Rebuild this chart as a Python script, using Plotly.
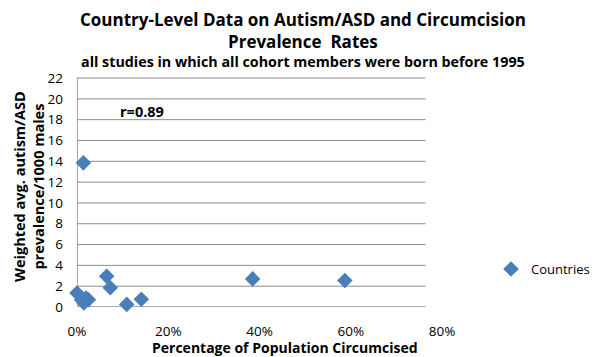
import plotly.graph_objects as go

# Data (fraction circumcised, weighted avg autism/ASD prevalence per 1000 males)
circumcised = [0.000, 0.010, 0.020, 0.015, 0.025, 0.014, 0.065, 0.073, 0.109, 0.141, 0.385, 0.587]
prevalence = [1.35, 0.70, 0.85, 0.40, 0.70, 13.85, 2.95, 1.85, 0.25, 0.75, 2.70, 2.55]
x_ticks = [0, 0.2, 0.4, 0.6, 0.8]
y_ticks = list(range(0, 23, 2))

FONT = "Open Sans"
GRID = "#8c8c8c"
x_plot_end = 0.764  # where the plot area ends (gridlines / axis line)

# page has an 8px body margin; figure is shrunk so the page does not overflow
BODY = 8
W, H = 600 - BODY, 357 - BODY
PL, PT, PW, PH = 77, 77, 365, 230  # plot area in page px


def px(xp):
    return (xp - PL) / PW


def py(yp):
    return (PT + PH - yp) / PH


fig = go.Figure()
fig.add_trace(go.Scatter(
    x=circumcised, y=prevalence, mode="markers", name="Countries",
    marker=dict(symbol="diamond", size=12, color="#4a7ebb"),
    cliponaxis=False,
))

shapes = []
for v in y_ticks[1:]:
    shapes.append(dict(type="line", xref="x", yref="y", x0=0, x1=x_plot_end, y0=v, y1=v,
                       line=dict(color=GRID, width=1), layer="below"))
shapes.append(dict(type="line", xref="x", yref="y", x0=0, x1=x_plot_end, y0=0, y1=0,
                   line=dict(color=GRID, width=1.5), layer="below"))
shapes.append(dict(type="line", xref="x", yref="y", x0=0, x1=0, y0=0, y1=22,
                   line=dict(color=GRID, width=1.5), layer="below"))

fig.update_layout(
    width=W, height=H,
    margin=dict(l=PL - BODY, r=W - (PL - BODY) - PW, t=PT - BODY, b=H - (PT - BODY) - PH,
                autoexpand=False),
    paper_bgcolor="white", plot_bgcolor="white",
    font=dict(family=FONT, color="black"),
    shapes=shapes,
    showlegend=True,
    legend=dict(x=px(491), y=py(269), xanchor="left", yanchor="middle",
                font=dict(size=13, family=FONT), bgcolor="rgba(0,0,0,0)"),
    xaxis=dict(range=[0, 0.8], tickvals=x_ticks, tickformat=".0%", showgrid=False,
               zeroline=False, showline=False, ticks="", tickfont=dict(size=13.5),
               ticklabelstandoff=14, automargin=False),
    yaxis=dict(range=[0, 22.1], tickvals=y_ticks, showgrid=False, zeroline=False,
               showline=False, ticks="", tickfont=dict(size=13.5),
               ticklabelstandoff=13, automargin=False),
)
cx = px(303)
fig.add_annotation(text="<b>Country-Level Data on Autism/ASD and Circumcision</b>",
                   xref="paper", yref="paper", x=cx, y=py(19.5), borderpad=0,
                   showarrow=False, font=dict(size=17), yanchor="middle")
fig.add_annotation(text="<b>Prevalence  Rates</b>",
                   xref="paper", yref="paper", x=cx, y=py(41),
                   showarrow=False, font=dict(size=17), yanchor="middle")
fig.add_annotation(text="<b>all studies in which all cohort members were born before 1995</b>",
                   xref="paper", yref="paper", x=cx, y=py(62),
                   showarrow=False, font=dict(size=14.3), yanchor="middle")
fig.add_annotation(text="<b>Percentage of Population Circumcised</b>",
                   xref="paper", yref="paper", x=px(285), y=py(347),
                   showarrow=False, font=dict(size=14), yanchor="middle")
fig.add_annotation(text="<b>Weighted avg. autism/ASD<br>prevalence/1000 males</b>",
                   xref="paper", yref="paper", x=px(29), y=py(187), textangle=-90,
                   showarrow=False, font=dict(size=14.5), xanchor="center", yanchor="middle")
fig.add_annotation(text="<b>r=0.89</b>", x=0.143, y=18.8, xref="x", yref="y",
                   showarrow=False, font=dict(size=14.5))

fig.write_html("out.html")
